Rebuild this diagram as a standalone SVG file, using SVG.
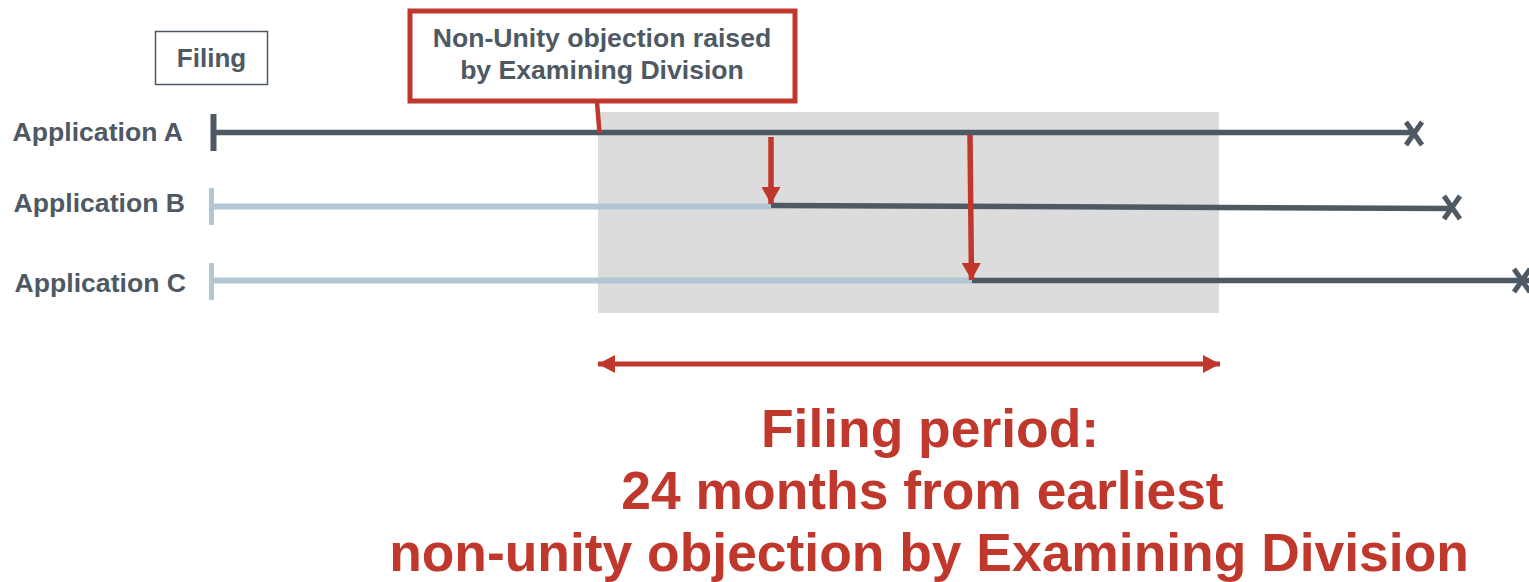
<svg xmlns="http://www.w3.org/2000/svg" width="1529" height="582" viewBox="0 0 1529 582">
<style>
.lbl{font-family:"Liberation Sans",Arial,sans-serif;font-weight:bold;font-size:26.6px;fill:#4e5964}
.big{font-family:"Liberation Sans",Arial,sans-serif;font-weight:bold;font-size:53.4px;fill:#c0372c;text-anchor:middle}
.dark{stroke:#4e5964;stroke-width:5.5;fill:none}
.light{stroke:#b3c6d3;stroke-width:6;fill:none}
.red{stroke:#c0372c;fill:none}
.x{stroke:#4e5964;stroke-width:5;fill:none}
</style>
<defs>
<marker id="ah" markerUnits="userSpaceOnUse" markerWidth="19" markerHeight="19" viewBox="0 0 17 19" refX="17" refY="9.5" orient="auto"><path d="M0,0 L17,9.5 L0,19 Z" fill="#c0372c"/></marker>
<marker id="dh" markerUnits="userSpaceOnUse" markerWidth="17" markerHeight="18" viewBox="0 0 17 18" refX="17" refY="9" orient="auto-start-reverse"><path d="M0,0 L17,9 L0,18 Z" fill="#c0372c"/></marker>
</defs>
<rect x="598" y="112" width="621" height="201" fill="#dcdcdc"/>
<g id="filing">
<rect x="155.5" y="31.5" width="112" height="53" fill="#fff" stroke="#4e5964" stroke-width="1.5"/>
<text class="lbl" x="211.5" y="67" text-anchor="middle" style="font-size:26px">Filing</text>
</g>
<g id="callout">
<rect x="410" y="11" width="385" height="90" fill="#fff" stroke="#c0372c" stroke-width="5"/>
<text class="lbl" x="602" y="47" text-anchor="middle">Non-Unity objection raised</text>
<text class="lbl" x="602" y="79" text-anchor="middle">by Examining Division</text>
</g>
<g id="appA">
<text class="lbl" x="183" y="141" text-anchor="end">Application A</text>
<line class="dark" x1="212" y1="132.5" x2="1412" y2="132.5"/>
<line x1="213.5" y1="114" x2="213.5" y2="151" stroke="#4e5964" stroke-width="6"/>
<path class="x" d="M1406,122 L1422,145 M1422,122 L1406,145"/>
</g>
<g id="appB">
<text class="lbl" x="185" y="212" text-anchor="end">Application B</text>
<line class="light" x1="212" y1="206.5" x2="771" y2="206.5"/>
<line x1="211.5" y1="188" x2="211.5" y2="225" stroke="#b3c6d3" stroke-width="5"/>
<line class="dark" x1="771" y1="205.5" x2="1452" y2="208.5"/>
<path class="x" d="M1444,196 L1460,219 M1460,196 L1444,219"/>
</g>
<g id="appC">
<text class="lbl" x="186" y="292" text-anchor="end">Application C</text>
<line class="light" x1="212" y1="280.5" x2="972" y2="280.5"/>
<line x1="211.5" y1="263" x2="211.5" y2="300" stroke="#b3c6d3" stroke-width="5"/>
<line class="dark" x1="972" y1="280.5" x2="1529" y2="280.5"/>
<path class="x" d="M1514,269 L1530,292 M1530,269 L1514,292"/>
</g>
<g id="connectors">
<line class="red" x1="597" y1="102" x2="599.5" y2="133" stroke-width="4.5"/>
<line class="red" x1="771" y1="137" x2="771" y2="204" stroke-width="5.5" marker-end="url(#ah)"/>
<line class="red" x1="970" y1="135" x2="971.5" y2="280" stroke-width="5.5" marker-end="url(#ah)"/>
<line class="red" x1="598" y1="364" x2="1220" y2="364" stroke-width="5" marker-start="url(#dh)" marker-end="url(#dh)"/>
</g>
<g id="caption">
<text class="big" x="930" y="447">Filing period:</text>
<text class="big" x="922.5" y="509">24 months from earliest</text>
<text class="big" x="929" y="571">non-unity objection by Examining Division</text>
</g>
</svg>
